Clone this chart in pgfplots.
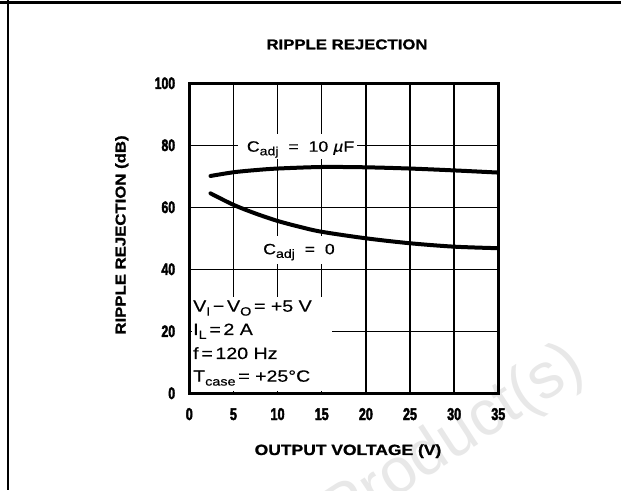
\documentclass[border=0pt]{standalone}
\usepackage{fontspec}
\setmainfont{Liberation Sans}
\newfontfamily\tickfont{Liberation Sans}[FakeStretch=0.74,FakeBold=2.5]
\newfontfamily\headfont{Liberation Sans}[FakeStretch=1.18,FakeBold=1.2]
\newfontfamily\labfont{Liberation Sans}[FakeStretch=1.18,FakeBold=0.4]
\newfontfamily\boxfont{Liberation Sans}[FakeStretch=1.2,FakeBold=0.4]
\usepackage{pgfplots}
\pgfplotsset{compat=1.18}
\newcommand{\sub}[1]{\raisebox{-0.45ex}{\fontsize{12}{12}\selectfont #1}}

\begin{document}
\begin{tikzpicture}[x=1pt,y=1pt]
\path[use as bounding box] (0,0) rectangle (621,490);
% watermark
\node[rotate=33, anchor=base east, text=black!9, font=\fontsize{64}{64}\selectfont] at (590,118) {Obsolete Product(s)};
% page frame
\draw[line width=2.3pt] (0,487.6) -- (621,487.6);
\draw[line width=2.3pt] (8,490) -- (8,0);
\begin{axis}[
  name=ax,
  at={(189.3pt,96.7pt)}, anchor=south west,
  scale only axis, width=309pt, height=310pt,
  xmin=0, xmax=35, ymin=0, ymax=100,
  xtick={0,5,...,35}, ytick={0,20,...,100},
  grid=major, grid style={black, line width=1.5pt},
  axis line style={draw=none},
  major tick length=0pt, tick style={draw=none},
  /pgf/number format/assume math mode=true,
  xticklabel style={font=\tickfont\bfseries\fontsize{17}{17}\selectfont, anchor=base, inner sep=0pt, yshift=-26.7pt},
  yticklabel style={font=\tickfont\bfseries\fontsize{16.5}{16.5}\selectfont, anchor=east, inner sep=0pt, xshift=-14pt},
]
\fill[white] (axis cs:0.3,0.6) rectangle (axis cs:16.2,31);
\fill[white] (axis cs:5.55,75.5) rectangle (axis cs:19.0,83.6);
\fill[white] (axis cs:7.8,41.6) rectangle (axis cs:16.9,50.6);
\addplot[black, line width=4pt, line cap=round, smooth, tension=0.5] coordinates {
(2.4,70.1) (5,71.3) (7.5,72.0) (10,72.5) (15,73.0) (20,72.9) (25,72.5) (30,71.9) (35,71.2)};
\addplot[black, line width=4pt, line cap=round, smooth, tension=0.5] coordinates {
(2.4,64.5) (5,60.8) (7.5,58.0) (10,55.6) (12.5,53.7) (15,52.1) (20,50.0) (25,48.4) (30,47.3) (35,46.8)};
\end{axis}
\draw[line width=2.8pt] (ax.south west) rectangle (ax.north east);
% titles and labels
\node[anchor=base, font=\headfont\bfseries\fontsize{14.2}{14.2}\selectfont] at (347,440.7) {RIPPLE REJECTION};
\node[anchor=base, font=\headfont\bfseries\fontsize{14.8}{14.8}\selectfont] at (348,35) {OUTPUT VOLTAGE (V)};
\node[anchor=base, rotate=90, font=\headfont\bfseries\fontsize{14.2}{14.2}\selectfont] at (125.5,255) {RIPPLE REJECTION (dB)};
% curve labels
\node[anchor=base west, inner sep=0pt, font=\labfont\fontsize{15}{15}\selectfont] at (246.7,338.3) {C\sub{adj}\ \ =\ \ 10 {\itshape µ}F};
\node[anchor=base west, inner sep=0pt, font=\labfont\fontsize{15}{15}\selectfont] at (263,235.7) {C\sub{adj}\ \ =\ \ 0};
% conditions
\node[anchor=base west, inner sep=0pt, font=\boxfont\fontsize{16.3}{16.3}\selectfont] at (193,178.3) {V\sub{I}\,\textminus\,V\sub{O}\,=\ +5 V};
\node[anchor=base west, inner sep=0pt, font=\boxfont\fontsize{16.3}{16.3}\selectfont] at (193,155) {I\sub{L}\,=\,2 A};
\node[anchor=base west, inner sep=0pt, font=\boxfont\fontsize{16.3}{16.3}\selectfont] at (193,131) {f\,=\,120 Hz};
\node[anchor=base west, inner sep=0pt, font=\boxfont\fontsize{16.3}{16.3}\selectfont] at (193,108.3) {T\sub{case}\,=\ +25\textdegree C};
\end{tikzpicture}
\end{document}
